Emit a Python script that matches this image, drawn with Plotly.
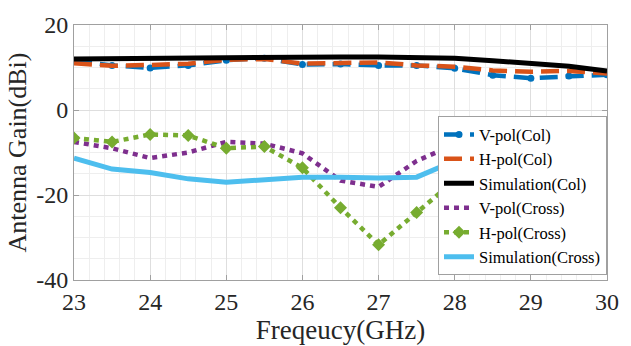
import plotly.graph_objects as go

freq = [23, 23.5, 24, 24.5, 25, 25.5, 26, 26.5, 27, 27.5, 28, 28.5, 29, 29.5, 30]

vpol_col = [11.6, 10.5, 9.9, 10.5, 11.7, 12.2, 10.7, 10.8, 10.5, 10.5, 9.8, 8.2, 7.5, 8.0, 8.3]
hpol_col = [11.0, 10.4, 10.6, 10.9, 11.8, 12.0, 10.9, 11.0, 11.2, 10.5, 10.2, 9.3, 9.0, 9.2, 8.6]
sim_col = [12.0, 12.1, 12.2, 12.3, 12.4, 12.4, 12.4, 12.5, 12.5, 12.4, 12.2, 11.6, 11.0, 10.3, 9.2]
vpol_cross = [-7.5, -9.0, -11.3, -10.0, -7.5, -7.9, -10.2, -16.6, -18.1, -12.0, -8.1, -10.3, -13.5, -14.0, -12.0]
hpol_cross = [-6.6, -7.5, -5.75, -6.0, -9.0, -8.6, -13.6, -23.0, -31.7, -24.1, -16.6, -11.6, -12.5, -14.0, -15.0]
sim_cross = [-11.3, -13.9, -14.7, -16.2, -17.0, -16.4, -15.8, -15.8, -16.0, -15.8, -12.0, -9.8, -9.8, -12.0, -13.5]

x_ticks = [23, 24, 25, 26, 27, 28, 29, 30]
y_ticks = [-40, -20, 0, 20]

FONT = "Liberation Serif"

fig = go.Figure()
fig.add_trace(go.Scatter(x=freq, y=vpol_col, name="V-pol(Col)", mode="lines+markers",
                         line=dict(color="#0072BD", width=4.5, dash="18px,8px"),
                         marker=dict(symbol="circle", size=7, color="#0072BD")))
fig.add_trace(go.Scatter(x=freq, y=hpol_col, name="H-pol(Col)", mode="lines",
                         line=dict(color="#D95319", width=4.5, dash="18px,8px")))
fig.add_trace(go.Scatter(x=freq, y=sim_col, name="Simulation(Col)", mode="lines",
                         line=dict(color="#000000", width=5)))
fig.add_trace(go.Scatter(x=freq, y=vpol_cross, name="V-pol(Cross)", mode="lines",
                         line=dict(color="#7E2F8E", width=4.5, dash="5px,5px")))
fig.add_trace(go.Scatter(x=freq, y=hpol_cross, name="H-pol(Cross)", mode="lines+markers",
                         line=dict(color="#77AC30", width=4.5, dash="5px,5px"),
                         marker=dict(symbol="diamond", size=10, color="#77AC30")))
fig.add_trace(go.Scatter(x=freq, y=sim_cross, name="Simulation(Cross)", mode="lines",
                         line=dict(color="#4DBEEE", width=5)))

axis_common = dict(
    showline=True, linecolor="#a0a0a0", linewidth=1, mirror="ticks",
    ticks="inside", ticklen=5, tickcolor="#a0a0a0",
    showgrid=True, gridcolor="#dedede", gridwidth=1, zeroline=False,
    tickfont=dict(family=FONT, size=24, color="#262626"),
)

fig.update_xaxes(range=[23, 30], tickvals=x_ticks, ticktext=[str(v) for v in x_ticks],
                 minor=dict(dtick=0.2, showgrid=True, gridcolor="#eeeeee", ticks=""),
                 title=dict(text="Freqeucy(GHz)", font=dict(family=FONT, size=27, color="#262626"), standoff=0),
                 **axis_common)
fig.update_yaxes(range=[-40, 20], tickvals=y_ticks, ticktext=[str(v) for v in y_ticks],
                 minor=dict(dtick=5, showgrid=True, gridcolor="#eeeeee", ticks=""),
                 title=dict(text="Antenna Gain(dBi)", font=dict(family=FONT, size=26, color="#262626"), standoff=2),
                 **axis_common)

fig.update_layout(
    width=631, height=346,
    margin=dict(l=74, r=15, t=19, b=63),
    paper_bgcolor="white", plot_bgcolor="white",
    font=dict(family=FONT, color="#262626"),
    legend=dict(x=1, xanchor="right", y=0.019, yanchor="bottom",
                bgcolor="white", bordercolor="#a0a0a0", borderwidth=1,
                font=dict(family=FONT, size=16.5, color="#000000"),
                itemwidth=30, tracegroupgap=0),
    showlegend=True,
)

fig.write_html("out.html")
